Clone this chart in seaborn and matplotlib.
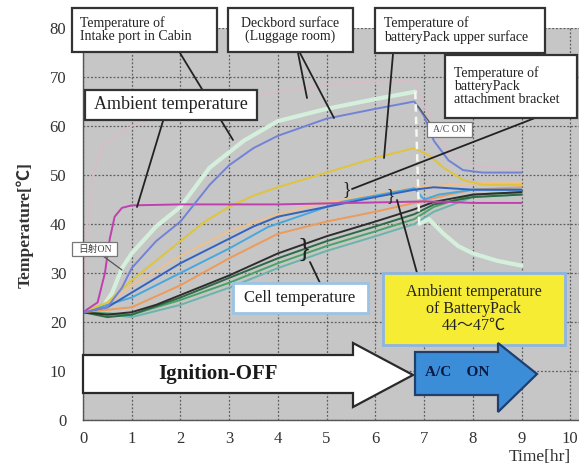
import numpy as np
import pandas as pd
import matplotlib
matplotlib.use("Agg")
import matplotlib.pyplot as plt
import seaborn as sns
from matplotlib.patches import Rectangle, Polygon
from matplotlib.lines import Line2D

# ---------------- data ----------------
intake_rise_t = [0, 0.4, 0.6, 0.8, 1.0, 1.5, 2.0, 2.6, 3.3, 4.0, 5.0, 6.0, 6.82]
intake_rise_y = [22, 23, 26, 31, 34, 39.5, 43.5, 51.5, 57, 61, 63.5, 65.5, 67]
intake_fall_t = [6.9, 7.1, 7.4, 7.7, 8.0, 8.5, 9.0]
intake_fall_y = [40, 41, 38, 35.5, 34, 32.5, 31.5]

deck_t = [0, 0.5, 0.8, 1.0, 1.5, 2.0, 2.6, 3.0, 3.5, 4.0, 5.0, 6.0, 6.8, 7.0, 7.2, 7.5, 7.8, 8.2, 9.0]
deck_y = [22, 23, 27, 31, 36.5, 40.5, 48, 52, 55.5, 58, 61.5, 63.5, 65, 62, 57, 53, 51, 50.5, 50.5]

pinkfaint_t = [0, 0.05, 0.1, 0.2, 0.4, 1.0, 2.0, 3.0, 4.0, 5.0, 6.0, 6.8, 7.0, 7.5, 8.0, 9.0]
pinkfaint_y = [22, 28, 40, 50, 56, 60, 63, 65, 67, 68.5, 69, 69.5, 64, 55, 52, 51]

ambient_t = [0, 0.3, 0.45, 0.55, 0.65, 0.8, 1.0, 2.0, 3.0, 4.0, 5.0, 6.0, 7.0, 7.5, 8.0, 9.0]
ambient_y = [22, 24, 30, 37, 41.5, 43.3, 43.8, 44, 44, 44, 44.2, 44.4, 44.6, 44.5, 44.3, 44.3]

upper_t = [0, 0.5, 1.0, 1.5, 2.0, 2.5, 3.0, 3.5, 4.0, 5.0, 6.0, 6.8, 7.1, 7.4, 7.8, 8.2, 9.0]
upper_y = [22, 24, 28.5, 32.5, 36.5, 40.5, 43.5, 45.8, 47.5, 50.5, 53.5, 55.5, 54, 51.5, 49, 48, 48]

paleorange_t = [0, 0.5, 1.0, 2.0, 3.0, 4.0, 5.0, 6.0, 6.8, 7.5, 8.5, 9.0]
paleorange_y = [22, 23.5, 27.5, 33.5, 38.5, 42, 44.5, 46, 47.5, 48, 48.5, 48.5]

blue_t = [0, 0.5, 1.0, 1.5, 2.0, 2.5, 3.0, 3.5, 4.0, 5.0, 6.0, 6.8, 7.2, 8.0, 9.0]
blue_y = [22, 23, 26, 29, 32, 34.5, 37, 39.5, 41.5, 43.5, 45.5, 47, 47.5, 47, 47]

bracket_t = [0, 1.0, 2.0, 3.0, 3.8, 5.3, 6.8, 7.0, 7.3, 8.0, 9.0]
bracket_y = [22, 25, 30, 35, 39.4, 44.5, 47.3, 45, 46, 47, 47]

orange_t = [0, 1.0, 2.0, 3.0, 4.0, 5.0, 6.0, 6.8, 7.5, 8.0, 9.0]
orange_y = [22, 23, 27.5, 33, 38, 40.5, 42.5, 44.3, 46, 47, 47.5]

cell1_t = [0, 0.5, 1.0, 1.5, 2.0, 3.0, 4.0, 5.0, 6.0, 6.8, 7.2, 8.0, 9.0]
cell1_y = [22, 21.5, 22, 23.5, 25.5, 29.5, 34, 37.5, 40.5, 43, 44.5, 46, 46.5]
cell2_t = [0, 0.5, 1.0, 2.0, 3.0, 4.0, 5.0, 6.0, 6.8, 7.2, 8.0, 9.0]
cell2_y = [22, 21, 21.5, 25, 29, 33, 36.5, 39.5, 42, 44, 45.5, 46]
cell3_t = [0, 1.0, 2.0, 3.0, 4.0, 5.0, 6.0, 6.8, 7.2, 8.0, 9.0]
cell3_y = [22, 21.5, 24.5, 28, 32, 35.5, 38.5, 41, 43.5, 46, 46.5]
cell4_t = [0, 1.0, 2.0, 3.0, 4.0, 5.0, 6.0, 6.8, 7.2, 8.0, 9.0]
cell4_y = [22, 21, 23.5, 27, 31, 34.5, 37.5, 40, 42.5, 45.5, 46]

x_ticks = [0, 1, 2, 3, 4, 5, 6, 7, 8, 9, 10]
y_ticks = [0, 10, 20, 30, 40, 50, 60, 70, 80]

series = {
    "pinkfaint": (pinkfaint_t, pinkfaint_y),
    "intake_rise": (intake_rise_t, intake_rise_y),
    "intake_fall": (intake_fall_t, intake_fall_y),
    "cell4": (cell4_t, cell4_y),
    "cell3": (cell3_t, cell3_y),
    "cell2": (cell2_t, cell2_y),
    "cell1": (cell1_t, cell1_y),
    "orange": (orange_t, orange_y),
    "paleorange": (paleorange_t, paleorange_y),
    "bracket": (bracket_t, bracket_y),
    "blue": (blue_t, blue_y),
    "upper": (upper_t, upper_y),
    "ambient": (ambient_t, ambient_y),
    "deck": (deck_t, deck_y),
}
palette = {
    "pinkfaint": "#D8BCC8", "intake_rise": "#D4F0DC", "intake_fall": "#D4F0DC",
    "cell4": "#6AB4AC", "cell3": "#4AA366", "cell2": "#2E6A46", "cell1": "#2E2E2E",
    "orange": "#EE9A58", "paleorange": "#EEC08E", "bracket": "#48A8DE",
    "blue": "#3463BE", "upper": "#E0C43A", "ambient": "#C040B0", "deck": "#7282D6",
}
sizes = {k: 1.4 for k in series}
sizes.update({"intake_rise": 3.0, "intake_fall": 3.0, "pinkfaint": 1.2})

rows = []
for name, (t, y) in series.items():
    for ti, yi in zip(t, y):
        rows.append({"time": ti, "temp": yi, "series": name})
df = pd.DataFrame(rows)

# ---------------- figure ----------------
sns.set_style("white")
plt.rcParams['font.family'] = ['Liberation Serif', 'Noto Sans CJK JP', 'DejaVu Serif']

W, H = 579, 470
fig = plt.figure(figsize=(W / 100, H / 100), dpi=100)
ax = fig.add_axes([83 / W, 1 - 420 / H, (579 - 83) / W, (420 - 28) / H])
ax.set_facecolor('#C6C6C6')

sns.lineplot(data=df, x="time", y="temp", hue="series", size="series",
             hue_order=list(series.keys()), size_order=list(series.keys()),
             palette=palette, sizes=sizes, sort=False, estimator=None,
             legend=False, ax=ax)
ax.plot([intake_rise_t[-1], intake_fall_t[0]], [intake_rise_y[-1], intake_fall_y[0]],
        ls=(0, (3, 2)), color="#F4F8EE", lw=1.8)

ax.set_xlim(0, 10.18)
ax.set_ylim(0, 80)
ax.set_xticks(x_ticks)
ax.set_yticks(y_ticks)
ax.grid(True, color="#5E5E5E", ls=(0, (1.5, 1.5)), lw=0.9)
ax.set_axisbelow(True)
ax.tick_params(axis="both", length=0, labelsize=12, colors="#333333")
ax.tick_params(axis="y", pad=12)
ax.tick_params(axis="x", pad=8)
ax.set_xlabel("")
ax.set_ylabel("")
for s in ["top", "right"]:
    ax.spines[s].set_visible(False)
for s in ["left", "bottom"]:
    ax.spines[s].set_color("#555555")
    ax.spines[s].set_linewidth(1.0)

fig.text(25 / W, 1 - 225 / H, "Temperature[℃]", rotation=90, ha="center", va="center",
         fontsize=12.5, fontweight="bold", color="#333333")
fig.text(540 / W, 1 - 457 / H, "Time[hr]", ha="center", va="center",
         fontsize=12.5, color="#333333")


def F(px, py):
    return (px / W, 1 - py / H)


def box(x0, y0, x1, y1, fc="white", ec="#333333", lw=1.6, z=5):
    fig.add_artist(Rectangle(F(x0, y1), (x1 - x0) / W, (y1 - y0) / H,
                             transform=fig.transFigure, fc=fc, ec=ec, lw=lw, zorder=z))


def line(x0, y0, x1, y1, lw=1.3, color="#222222", z=4):
    fig.add_artist(Line2D([x0 / W, x1 / W], [1 - y0 / H, 1 - y1 / H],
                          transform=fig.transFigure, color=color, lw=lw, zorder=z))


def txt(px, py, s, size=10, ha="left", **kw):
    fig.text(px / W, 1 - py / H, s, ha=ha, va="center", fontsize=size,
             color=kw.pop("color", "#222222"), zorder=kw.pop("zorder", 7),
             linespacing=kw.pop("linespacing", 1.0), **kw)


# leader lines
line(180, 53, 233, 140)
line(298, 53, 307, 98)
line(300, 53, 334, 118)
line(393, 54, 384, 158)
line(535, 118, 352, 189)
line(163, 121, 137, 207)
line(310, 262, 320, 283)
line(397, 200, 417, 273)
line(430, 123, 418, 106, lw=0.9, color="#555555")
line(103, 256, 122, 270, lw=0.9, color="#555555")

# braces
txt(347, 190, "}", size=13, ha="center", color="#222222")
txt(304, 250, "}", size=20, ha="center", color="#222222")
txt(390, 196, "}", size=12, ha="center", color="#222222")

# label boxes
box(72, 8, 217, 52)
txt(80, 30, "Temperature of\nIntake port in Cabin", size=10)
box(228, 8, 353, 52)
txt(290, 30, "Deckbord surface\n(Luggage room)", size=10, ha="center", multialignment="center")
box(375, 8, 545, 53)
txt(384, 30, "Temperature of\nbatteryPack upper surface", size=10)
box(445, 55, 577, 118)
txt(454, 86, "Temperature of\nbatteryPack\nattachment bracket", size=10)
box(85, 90, 257, 120)
txt(171, 105, "Ambient temperature", size=13, ha="center")
box(233, 283, 368, 313, ec="#9CC3E6", lw=2.0)
txt(300, 298, "Cell temperature", size=12, ha="center")
box(383, 273, 565, 345, fc="#F6EC33", ec="#8DB4E2", lw=2.0)
txt(474, 309, "Ambient temperature\nof BatteryPack\n44～47℃", size=11.5, ha="center",
    multialignment="center", linespacing=1.05)

# small callouts
box(427, 122, 472, 137, ec="#777777", lw=0.9)
txt(449.5, 129.5, "A/C ON", size=7, ha="center", color="#444444")
box(72, 242, 117, 256, ec="#777777", lw=0.9)
txt(94.5, 249, "日射ON", size=7, ha="center", color="#444444")

# arrows
white_arrow = [(83, 355), (353, 355), (353, 343), (413, 375), (353, 407), (353, 393), (83, 393)]
fig.add_artist(Polygon([F(*p) for p in white_arrow], closed=True, transform=fig.transFigure,
                       fc="white", ec="#2A2A2A", lw=1.6, zorder=5))
blue_arrow = [(415, 352), (498, 352), (498, 343), (537, 374), (498, 412), (498, 395), (415, 395)]
fig.add_artist(Polygon([F(*p) for p in blue_arrow], closed=True, transform=fig.transFigure,
                       fc="#3C8DD8", ec="#1F3F6F", lw=1.6, zorder=5))
txt(218, 374, "Ignition-OFF", size=15, ha="center", fontweight="bold", color="#1A1A1A")
txt(457, 373, "A/C\u3000ON", size=11, ha="center", fontweight="bold", color="#0B1A45")

fig.savefig("out.png", dpi=100)
